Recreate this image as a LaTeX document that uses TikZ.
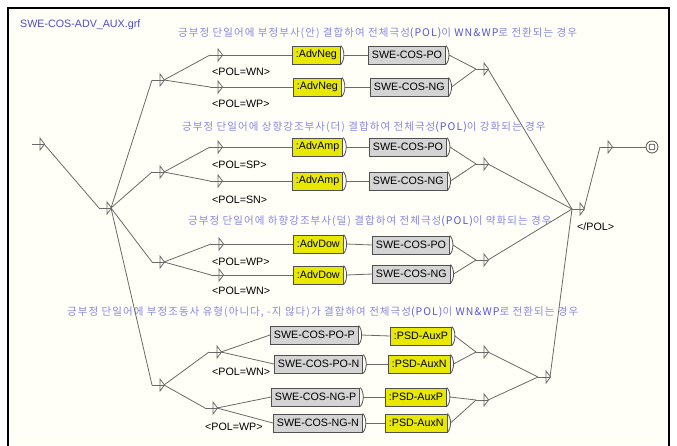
\documentclass[tikz,border=0pt]{standalone}
\usepackage{fontspec}
\setmainfont{Liberation Sans}
\newfontfamily\kr[LetterSpace=10]{Noto Sans CJK KR}
\definecolor{cream}{RGB}{255,255,247}
\definecolor{edgec}{RGB}{105,105,105}
\definecolor{boxgray}{RGB}{212,212,212}
\definecolor{boxyel}{RGB}{232,232,0}
\definecolor{boxbd}{RGB}{80,80,80}
\definecolor{cmt}{RGB}{135,135,232}
\definecolor{cmtd}{RGB}{85,85,220}
\definecolor{ttl}{RGB}{75,75,205}
\newcommand\UBox[5]{%
  \node[#2] (#1) at (#3,#4) {#5};
  \draw[bline] (#1.north east) .. controls +(4,4) and +(4,-4) .. (#1.south east);
  \coordinate (#1-o) at ([xshift=3pt]#1.east);
}
\newcommand\ENode[3]{%
  \coordinate (#1) at (#2,#3);
  \coordinate (#1-i) at (#2-8,#3);
  \coordinate (#1-o) at (#2+4,#3);
  \draw[eline] (#1-i) -- (#1-o);
  \draw[eline] (#2,#3-6) -- (#2,#3+6) -- (#2+4.5,#3) -- cycle;
}
\begin{document}
\begin{tikzpicture}[x=1pt,y=-1pt,
  eline/.style={draw=edgec, line width=0.8pt},
  bline/.style={draw=boxbd, line width=0.8pt},
  gbox/.style={draw=boxbd, line width=0.8pt, fill=boxgray, anchor=west, inner xsep=3.5pt, inner ysep=0pt, minimum height=18pt, font=\fontsize{10.7}{12}\selectfont},
  ybox/.style={gbox, fill=boxyel},
  outlbl/.style={font=\fontsize{10.7}{12}\selectfont, inner sep=0pt, anchor=west},
  cmtlbl/.style={font=\kr\fontsize{10.5}{12}\selectfont, text=cmt, inner sep=0pt, anchor=west}
]
\useasboundingbox (0,0) rectangle (677,445);
\fill[white] (0,0) rectangle (677,445);
\fill[cream] (8,8) rectangle (669,445);
\draw[black, line width=2pt] (8,446) -- (8,8) -- (669,8) -- (669,446);

% title and comments
\node[outlbl, text=ttl] (title) at (20,25) {SWE-COS-ADV\_AUX.grf};
\node[cmtlbl] (c1) at (178,33) {긍부정 단일어에 부정부사(안) 결합하여 전체극성{\color{cmtd}(POL)}이 {\color{cmtd}WN\&WP}로 전환되는 경우};
\node[cmtlbl] (c2) at (182,127) {긍부정 단일어에 상향강조부사(더) 결합하여 전체극성{\color{cmtd}(POL)}이 강화되는 경우};
\node[cmtlbl] (c3) at (188,221) {긍부정 단일어에 하향강조부사(덜) 결합하여 전체극성{\color{cmtd}(POL)}이 약화되는 경우};
\node[cmtlbl] (c4) at (67,312) {긍부정 단일어에 부정조동사 유형(아니다, -지 않다)가 결합하여 전체극성{\color{cmtd}(POL)}이 {\color{cmtd}WN\&WP}로 전환되는 경우};

% empty nodes
\ENode{E0}{40}{144}
\ENode{H0}{107}{208}
\ENode{S1}{160}{80}
\ENode{S2}{160}{172}
\ENode{S3}{160}{262}
\ENode{S4}{160}{385}
\ENode{E11}{218}{55}
\ENode{E12}{218}{87}
\ENode{E21}{218}{147}
\ENode{E22}{218}{181}
\ENode{E31}{219}{244}
\ENode{E32}{219}{275}
\ENode{E41}{217}{352}
\ENode{E42}{213}{408}
\ENode{F1}{484}{69}
\ENode{F2}{484}{164}
\ENode{F3}{484}{260}
\ENode{F41}{484}{352}
\ENode{F42}{484}{400}
\ENode{F4}{546}{377}
\ENode{HF}{580}{209}
\ENode{E5}{608}{147}

% outputs
\node[outlbl] (o11) at (212,72) {<POL=WN>};
\node[outlbl] (o12) at (212,104) {<POL=WP>};
\node[outlbl] (o21) at (212,165) {<POL=SP>};
\node[outlbl] (o22) at (212,200) {<POL=SN>};
\node[outlbl] (o31) at (212,262) {<POL=WP>};
\node[outlbl] (o32) at (212,291) {<POL=WN>};
\node[outlbl] (o41) at (212,372) {<POL=WN>};
\node[outlbl] (o42) at (205,427) {<POL=WP>};
\node[outlbl] (oHF) at (577,227) {</POL>};

% boxes
\UBox{r1a}{ybox}{292}{55}{:AdvNeg}
\UBox{r1b}{gbox}{368}{55}{SWE-COS-PO}
\UBox{r2a}{ybox}{293}{87}{:AdvNeg}
\UBox{r2b}{gbox}{370}{87}{SWE-COS-NG}
\UBox{r3a}{ybox}{292}{147}{:AdvAmp}
\UBox{r3b}{gbox}{369}{147}{SWE-COS-PO}
\UBox{r4a}{ybox}{292}{181}{:AdvAmp}
\UBox{r4b}{gbox}{369}{181}{SWE-COS-NG}
\UBox{r5a}{ybox}{293}{244}{:AdvDow}
\UBox{r5b}{gbox}{372}{245}{SWE-COS-PO}
\UBox{r6a}{ybox}{293}{275}{:AdvDow}
\UBox{r6b}{gbox}{372}{274}{SWE-COS-NG}
\UBox{r7a}{gbox}{270}{335}{SWE-COS-PO-P}
\UBox{r7b}{ybox}{390}{336}{:PSD-AuxP}
\UBox{r8a}{gbox}{274}{364}{SWE-COS-PO-N}
\UBox{r8b}{ybox}{388}{364}{:PSD-AuxN}
\UBox{r9a}{gbox}{271}{397}{SWE-COS-NG-P}
\UBox{r9b}{ybox}{385}{397}{:PSD-AuxP}
\UBox{r10a}{gbox}{273}{423}{SWE-COS-NG-N}
\UBox{r10b}{ybox}{385}{423}{:PSD-AuxN}

% final state
\node[circle, draw=boxbd, line width=0.8pt, fill=cream, minimum size=12pt, inner sep=0pt] (fin) at (652,147) {};
\node[draw=boxbd, line width=0.8pt, rounded corners=1pt, minimum size=5.5pt, inner sep=0pt] (finsq) at (fin.center) {};

% connectors
\draw[eline] (E0-o) -- (H0-i);
\draw[eline] (H0-o) -- (S1-i);
\draw[eline] (H0-o) -- (S2-i);
\draw[eline] (H0-o) -- (S3-i);
\draw[eline] (H0-o) -- (S4-i);
\draw[eline] (S1-o) -- (E11-i);
\draw[eline] (S1-o) -- (E12-i);
\draw[eline] (S2-o) -- (E21-i);
\draw[eline] (S2-o) -- (E22-i);
\draw[eline] (S3-o) -- (E31-i);
\draw[eline] (S3-o) -- (E32-i);
\draw[eline] (S4-o) -- (E41-i);
\draw[eline] (S4-o) -- (E42-i);

\draw[eline] (E11-o) -- (r1a.west);
\draw[eline] (E12-o) -- (r2a.west);
\draw[eline] (E21-o) -- (r3a.west);
\draw[eline] (E22-o) -- (r4a.west);
\draw[eline] (E31-o) -- (r5a.west);
\draw[eline] (E32-o) -- (r6a.west);
\draw[eline] (E41-o) -- (r7a.west);
\draw[eline] (E41-o) -- (r8a.west);
\draw[eline] (E42-o) -- (r9a.west);
\draw[eline] (E42-o) -- (r10a.west);

\draw[eline] (r1a-o) -- (r1b.west);
\draw[eline] (r2a-o) -- (r2b.west);
\draw[eline] (r3a-o) -- (r3b.west);
\draw[eline] (r4a-o) -- (r4b.west);
\draw[eline] (r5a-o) -- (r5b.west);
\draw[eline] (r6a-o) -- (r6b.west);
\draw[eline] (r7a-o) -- (r7b.west);
\draw[eline] (r8a-o) -- (r8b.west);
\draw[eline] (r9a-o) -- (r9b.west);
\draw[eline] (r10a-o) -- (r10b.west);

\draw[eline] (r1b-o) -- (F1-i);
\draw[eline] (r2b-o) -- (F1-i);
\draw[eline] (r3b-o) -- (F2-i);
\draw[eline] (r4b-o) -- (F2-i);
\draw[eline] (r5b-o) -- (F3-i);
\draw[eline] (r6b-o) -- (F3-i);
\draw[eline] (r7b-o) -- (F41-i);
\draw[eline] (r8b-o) -- (F41-i);
\draw[eline] (r9b-o) -- (F42-i);
\draw[eline] (r10b-o) -- (F42-i);
\draw[eline] (F41-o) -- (F4-i);
\draw[eline] (F42-o) -- (F4-i);

\draw[eline] (F1-o) -- (HF-i);
\draw[eline] (F2-o) -- (HF-i);
\draw[eline] (F3-o) -- (HF-i);
\draw[eline] (F4-o) -- (HF-i);
\draw[eline] (HF-o) -- (E5-i);
\draw[eline] (E5-o) -- (fin.west);
\end{tikzpicture}
\end{document}
